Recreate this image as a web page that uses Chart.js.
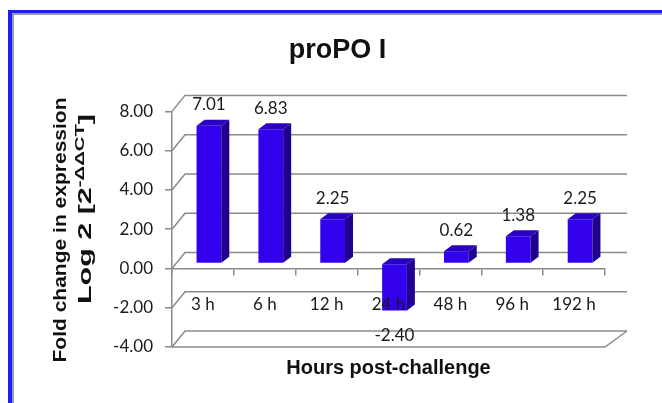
<!DOCTYPE html>
<html>
<head>
<meta charset="utf-8">
<script src="https://cdn.jsdelivr.net/npm/chart.js@4.4.1/dist/chart.umd.min.js"></script>
<style>
  html, body { margin: 0; padding: 0; background: #fff; }
  #wrap { position: relative; width: 662px; height: 403px; overflow: hidden; background: #fff; }
  .frame-blue { position: absolute; left: 8px; top: 10px; width: 760px; height: 500px;
                border-top: 3px solid #1d1dfa; border-left: 4px solid #1d1dfa; }
  .frame-gray { position: absolute; left: 12px; top: 13px; width: 760px; height: 500px;
                border-top: 2px solid #9a9a9a; border-left: 2px solid #9a9a9a; }
  #chart { position: absolute; left: 0; top: 0; }
</style>
</head>
<body>
<div id="wrap">
  <div class="frame-blue"></div>
  <div class="frame-gray"></div>
  <canvas id="chart" width="662" height="403"></canvas>
</div>
<script>
// === データ ===
const categories = ['3 h', '6 h', '12 h', '24 h', '48 h', '96 h', '192 h'];
const foldChange = [7.01, 6.83, 2.25, -2.40, 0.62, 1.38, 2.25];
const yTickValues = [-4, -2, 0, 2, 4, 6, 8];

// === 見た目 ===
const gridColor = '#8a8a8a';
const faceFront = '#3300ee', faceTop = '#2a00c2', faceSide = '#1f008f';
const WALL_DX = 13, WALL_DX_RIGHT = 22, WALL_DY = -16;   // 奥の壁までのずれ
const BAR_DX = 6, BAR_DY = -5;                           // 棒の前面の位置
const BAR_DEPTH_X = 8, BAR_DEPTH_Y = -6;                 // 棒の奥行き
const tickFont = 'Lato, "Open Sans", sans-serif';

// 3D の壁・床・棒の側面
const box3d = {
    id: 'box3d',
    beforeDatasetsDraw(chart) {
        const { ctx, chartArea: a } = chart;
        const y = chart.scales.y;
        ctx.save();
        ctx.strokeStyle = gridColor;
        ctx.lineWidth = 1.5;
        y.ticks.forEach(t => {
            const py = y.getPixelForValue(t.value);
            ctx.beginPath();
            ctx.moveTo(a.left, py);
            ctx.lineTo(a.left + WALL_DX, py + WALL_DY);
            ctx.lineTo(a.right + WALL_DX_RIGHT, py + WALL_DY);
            ctx.stroke();
        });
        // 床の手前の線
        const pyMin = y.getPixelForValue(y.min);
        ctx.beginPath();
        ctx.moveTo(a.left, pyMin);
        ctx.lineTo(a.right, pyMin);
        ctx.lineTo(a.right + WALL_DX_RIGHT, pyMin + WALL_DY);
        ctx.stroke();
        ctx.restore();
        // 棒は少し奥へずらして描く
        ctx.save();
        ctx.translate(BAR_DX, BAR_DY);
    },
    afterDatasetsDraw(chart) {
        const { ctx } = chart;
        const meta = chart.getDatasetMeta(0);
        meta.data.forEach((bar, i) => {
            const { x, y, base, width } = bar.getProps(['x', 'y', 'base', 'width'], true);
            const L = x - width / 2, R = x + width / 2;
            const T = Math.min(y, base), B = Math.max(y, base);
            ctx.fillStyle = faceTop;
            ctx.beginPath();
            ctx.moveTo(L, T);
            ctx.lineTo(L + BAR_DEPTH_X, T + BAR_DEPTH_Y);
            ctx.lineTo(R + BAR_DEPTH_X, T + BAR_DEPTH_Y);
            ctx.lineTo(R, T);
            ctx.closePath();
            ctx.fill();
            ctx.fillStyle = faceSide;
            ctx.beginPath();
            ctx.moveTo(R, T);
            ctx.lineTo(R + BAR_DEPTH_X, T + BAR_DEPTH_Y);
            ctx.lineTo(R + BAR_DEPTH_X, B + BAR_DEPTH_Y);
            ctx.lineTo(R, B);
            ctx.closePath();
            ctx.fill();

            // 値ラベル
            const v = foldChange[i];
            ctx.fillStyle = '#1a1a1a';
            ctx.font = '17px ' + tickFont;
            ctx.textAlign = 'center';
            ctx.textBaseline = 'middle';
            const ly = v >= 0 ? T - 21 : B + 25;
            ctx.fillText(v.toFixed(2), x, ly);
        });
        ctx.restore();
    }
};

// 縦軸タイトル（上付き文字つき）
function drawStretched(ctx, parts, cx, cy, targetLen) {
    let natural = 0;
    parts.forEach(p => { ctx.font = p.font; p.w = ctx.measureText(p.text).width; natural += p.w; });
    const s = targetLen / natural;
    ctx.save();
    ctx.translate(cx, cy);
    ctx.rotate(-Math.PI / 2);
    ctx.scale(s, 1);
    ctx.textAlign = 'left';
    ctx.textBaseline = 'middle';
    ctx.fillStyle = '#111';
    let x = -natural / 2;
    parts.forEach(p => { ctx.font = p.font; ctx.fillText(p.text, x, p.dy); x += p.w; });
    ctx.restore();
}
const yTitle = {
    id: 'yTitle',
    afterDraw(chart) {
        const ctx = chart.ctx;
        const big = 'bold 18px "Liberation Sans", Arial, sans-serif';
        const sup = 'bold 12px "Liberation Sans", Arial, sans-serif';
        drawStretched(ctx, [{ text: 'Fold change in expression', font: big, dy: 0 }], 61, 230, 265);
        drawStretched(ctx, [
            { text: 'Log 2 [2', font: big, dy: 0 },
            { text: '-ΔΔCT', font: sup, dy: -5 },
            { text: ']', font: big, dy: 0 }
        ], 86, 209, 190);
    }
};

new Chart(document.getElementById('chart').getContext('2d'), {
    type: 'bar',
    data: {
        labels: categories,
        datasets: [{ data: foldChange, backgroundColor: faceFront, borderWidth: 0,
                     barPercentage: 0.4, categoryPercentage: 1.0 }]
    },
    options: {
        responsive: false, animation: false, devicePixelRatio: 1,
        layout: { padding: { left: 70, right: 57, top: 0, bottom: 0 } },
        plugins: {
            legend: { display: false }, tooltip: { enabled: false },
            title: { display: true, text: 'proPO I', color: '#111',
                     font: { family: '"Liberation Sans", Arial, sans-serif', size: 27, weight: 'bold', lineHeight: 1.2 },
                     padding: { top: 34, bottom: 45 } },
            subtitle: { display: true, position: 'bottom', fullSize: false, text: 'Hours post-challenge', color: '#111',
                        font: { family: '"Liberation Sans", Arial, sans-serif', size: 20, weight: 'bold', lineHeight: 1.2 },
                        padding: { top: 9, bottom: 23 } }
        },
        scales: {
            x: {
                position: { y: 0 },
                grid: { drawOnChartArea: false, drawTicks: true, tickLength: 6, color: gridColor, lineWidth: 1.5 },
                border: { color: gridColor, width: 1.5 },
                ticks: { z: 1, padding: 20, color: '#1a1a1a', font: { family: tickFont, size: 17 } }
            },
            y: {
                min: yTickValues[0], max: yTickValues[yTickValues.length - 1],
                afterFit: (axis) => { axis.width = 102; },
                grid: { drawOnChartArea: false, drawTicks: true, tickLength: 7, color: gridColor, lineWidth: 1.5 },
                border: { color: gridColor, width: 1.5 },
                ticks: { stepSize: 2, padding: 12, color: '#1a1a1a',
                         font: { family: tickFont, size: 17 },
                         callback: (v) => v.toFixed(2) }
            }
        }
    },
    plugins: [box3d, yTitle]
});
</script>
</body>
</html>
